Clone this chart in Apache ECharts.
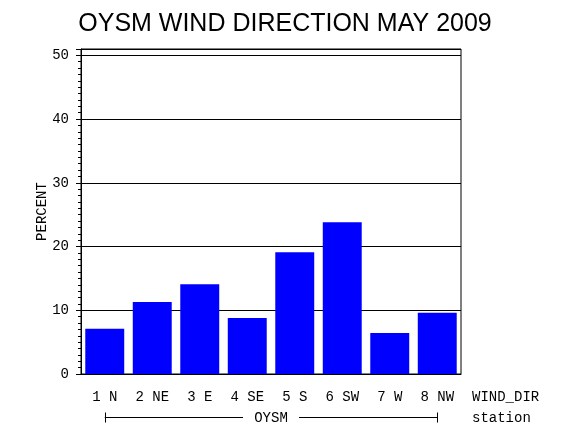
<!DOCTYPE html>
<html>
<head>
<meta charset="utf-8">
<script src="https://cdn.jsdelivr.net/npm/echarts@6/dist/echarts.min.js"></script>
<style>
  html, body { margin: 0; padding: 0; background: #fff; }
  #chart { width: 570px; height: 430px; }
</style>
</head>
<body>
<div id="chart"></div>
<script>
// data
var titleText = 'OYSM WIND DIRECTION MAY 2009';
var windDirs = ['1 N', '2 NE', '3 E', '4 SE', '5 S', '6 SW', '7 W', '8 NW'];
var percentValues = [7.1, 11.3, 14.1, 8.8, 19.1, 23.8, 6.45, 9.6];
var yTicks = [0, 10, 20, 30, 40, 50];
var stationName = 'OYSM';

var monoFont = '"Liberation Mono", "DejaVu Sans Mono", monospace';

var myChart = echarts.init(document.getElementById('chart'), null, { renderer: 'canvas' });

var option = {
    backgroundColor: '#fff',
    animation: false,
    title: {
        text: titleText,
        left: 'center',
        top: 7,
        textStyle: {
            fontFamily: '"Liberation Sans", Arial, sans-serif',
            fontSize: 25,
            fontWeight: 'normal',
            color: '#000'
        }
    },
    grid: {
        left: 81, right: 109, top: 49, bottom: 56,
        show: true,
        borderColor: '#000',
        borderWidth: 1
    },
    xAxis: {
        type: 'category',
        data: windDirs,
        name: 'WIND_DIR',
        nameLocation: 'end',
        nameGap: 11,
        nameTextStyle: {
            fontFamily: monoFont, fontSize: 14, color: '#000',
            verticalAlign: 'top', padding: [16, 0, 0, 0]
        },
        axisLine: { lineStyle: { color: '#000', width: 1 } },
        axisTick: { show: false },
        axisLabel: {
            margin: 16,
            fontFamily: monoFont, fontSize: 14, color: '#000'
        },
        splitLine: { show: false }
    },
    yAxis: {
        type: 'value',
        min: 0,
        max: 51,
        interval: 10,
        name: 'PERCENT',
        nameLocation: 'middle',
        nameRotate: 90,
        nameGap: 32,
        nameMoveOverlap: false,
        nameTextStyle: { fontFamily: monoFont, fontSize: 14, color: '#000' },
        axisLine: { show: true, lineStyle: { color: '#000', width: 1 } },
        axisTick: { show: true, length: 5, lineStyle: { color: '#000' } },
        minorTick: { show: true, splitNumber: 10, length: 3, lineStyle: { color: '#000' } },
        axisLabel: {
            margin: 12,
            fontFamily: monoFont, fontSize: 14, color: '#000',
            formatter: function (v) {
                return yTicks.indexOf(v) >= 0 ? String(v) : '';
            }
        },
        splitLine: { show: true, lineStyle: { color: '#000', width: 1 } }
    },
    series: [{
        type: 'bar',
        data: percentValues,
        barCategoryGap: '18%',
        itemStyle: { color: '#0000ff' }
    }]
};
myChart.setOption(option);

// bracket under the labels: from first to last category, with station name in the middle
var xa = myChart.convertToPixel({ xAxisIndex: 0 }, windDirs[0]);
var xb = myChart.convertToPixel({ xAxisIndex: 0 }, windDirs[windDirs.length - 1]);
var y0 = myChart.convertToPixel({ yAxisIndex: 0 }, 0);
var by = Math.round(y0 + 43) + 0.5;
var xm = (xa + xb) / 2;
var gapHalf = 28;
var lineStyle = { stroke: '#000', lineWidth: 1 };

myChart.setOption({
    graphic: [
        { type: 'line', shape: { x1: xa, y1: by, x2: xm - gapHalf, y2: by }, style: lineStyle, silent: true },
        { type: 'line', shape: { x1: xm + gapHalf, y1: by, x2: xb, y2: by }, style: lineStyle, silent: true },
        { type: 'line', shape: { x1: Math.round(xa) + 0.5, y1: by - 5, x2: Math.round(xa) + 0.5, y2: by + 5 }, style: lineStyle, silent: true },
        { type: 'line', shape: { x1: Math.round(xb) + 0.5, y1: by - 5, x2: Math.round(xb) + 0.5, y2: by + 5 }, style: lineStyle, silent: true },
        {
            type: 'text', x: xm, y: by + 1, silent: true,
            style: { text: stationName, font: '14px ' + monoFont, fill: '#000', align: 'center', verticalAlign: 'middle' }
        },
        {
            type: 'text', x: 472, y: by + 1, silent: true,
            style: { text: 'station', font: '14px ' + monoFont, fill: '#000', align: 'left', verticalAlign: 'middle' }
        }
    ]
});
</script>
</body>
</html>
